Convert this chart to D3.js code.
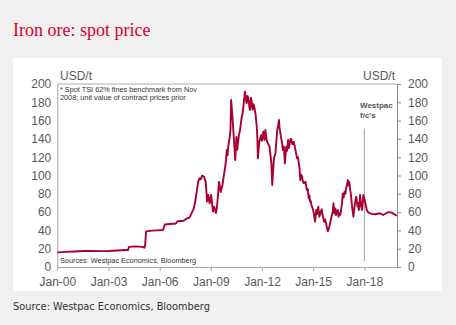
<!DOCTYPE html>
<html>
<head>
<meta charset="utf-8">
<script src="https://cdn.jsdelivr.net/npm/d3@7"></script>
<style>
  html, body { margin: 0; padding: 0; background: #f0f0f0; }
  svg { display: block; }
</style>
</head>
<body>
<svg id="chart" width="456" height="325"></svg>
<script>
// Iron ore spot price, USD/t (decimal year, price); rows line up one-to-one
const years = [
  2000.0, 2000.5, 2001.0, 2001.5, 2002.0, 2002.5, 2003.0, 2003.5, 2004.0, 2004.15,
  2004.2, 2004.6, 2005.0, 2005.1, 2005.15, 2005.2, 2005.4, 2005.8, 2006.2, 2006.3,
  2006.6, 2006.95, 2007.05, 2007.4, 2007.6, 2007.75, 2007.9, 2008.0, 2008.1, 2008.2,
  2008.27, 2008.35, 2008.42, 2008.48, 2008.6, 2008.7, 2008.78, 2008.85, 2008.93, 2009.02,
  2009.12, 2009.2, 2009.25, 2009.3, 2009.35, 2009.42, 2009.48, 2009.58, 2009.68, 2009.78,
  2009.86, 2009.94, 2009.98, 2010.02, 2010.12, 2010.15, 2010.19, 2010.22, 2010.26, 2010.37,
  2010.43, 2010.5, 2010.55, 2010.6, 2010.65, 2010.7, 2010.8, 2010.85, 2010.9, 2011.0,
  2011.05, 2011.1, 2011.15, 2011.2, 2011.25, 2011.3, 2011.35, 2011.4, 2011.45, 2011.5,
  2011.55, 2011.63, 2011.7, 2011.73, 2011.76, 2011.84, 2011.95, 2012.0, 2012.08, 2012.15,
  2012.2, 2012.25, 2012.3, 2012.44, 2012.5, 2012.55, 2012.6, 2012.65, 2012.7, 2012.79,
  2012.89, 2012.95, 2012.99, 2013.03, 2013.08, 2013.13, 2013.18, 2013.22, 2013.28, 2013.34,
  2013.42, 2013.47, 2013.53, 2013.57, 2013.61, 2013.67, 2013.72, 2013.78, 2013.86, 2013.9,
  2013.96, 2014.0, 2014.06, 2014.11, 2014.16, 2014.2, 2014.25, 2014.3, 2014.35, 2014.4,
  2014.45, 2014.55, 2014.63, 2014.68, 2014.74, 2014.78, 2014.82, 2014.86, 2014.9, 2015.0,
  2015.05, 2015.11, 2015.18, 2015.23, 2015.3, 2015.36, 2015.45, 2015.5, 2015.55, 2015.6,
  2015.64, 2015.7, 2015.76, 2015.8, 2015.86, 2015.9, 2015.95, 2016.05, 2016.1, 2016.15,
  2016.19, 2016.25, 2016.3, 2016.34, 2016.44, 2016.49, 2016.54, 2016.59, 2016.64, 2016.69,
  2016.74, 2016.79, 2016.84, 2016.89, 2016.93, 2016.98, 2017.03, 2017.07, 2017.1, 2017.13,
  2017.17, 2017.22, 2017.26, 2017.31, 2017.36, 2017.4, 2017.45, 2017.52, 2017.56, 2017.6,
  2017.64, 2017.67, 2017.71, 2017.75, 2017.8, 2017.86, 2017.9, 2017.94, 2017.98, 2018.04,
  2018.14, 2018.24, 2018.43, 2018.63, 2018.92, 2019.1, 2019.3, 2019.4, 2019.6, 2019.9
];
const prices = [
  16, 16.5, 17, 17.5, 17.5, 17.3, 17.5, 18, 18.5, 18.6,
  22, 22.5, 22, 21, 24, 38.6, 39.5, 40, 40.5, 46.5,
  47, 47.5, 50, 50.5, 53, 54, 60, 64, 73, 86,
  94, 97, 96, 99.8, 98.7, 93, 71.4, 78.7, 69.6, 78.7,
  60.5, 66, 62.3, 59, 64, 78.7, 93, 82, 89.6, 102,
  111.5, 128, 122, 131.5, 144, 150, 182.5, 175, 166, 135,
  117, 142, 128, 137, 145, 148, 162.5, 167, 173.4, 191.6,
  184, 179, 187, 184, 176, 171.6, 185, 180.7, 172, 178,
  175, 166, 151.6, 140, 118.8, 137, 144, 138, 148, 138.8,
  149.7, 142, 137, 131.5, 122, 113.3, 89.6, 105, 118.8, 124.3,
  149.7, 155, 160.7, 152, 146, 140, 135, 128, 131.5, 113.3,
  131.5, 127, 138.8, 130, 133.3, 140, 139.5, 134, 137, 133,
  128, 124, 118.8, 120, 113.3, 108, 95, 101, 98.7, 93,
  91.5, 93.2, 84, 85, 75, 78, 71.4, 72, 67.8, 62.3,
  57, 49.5, 62.3, 58, 66, 55, 60.5, 63, 56.8, 53,
  49.5, 52, 47.8, 44, 39, 41, 44, 53.2, 57, 60.5,
  69.6, 58.7, 64, 56.8, 62.3, 55, 58.7, 57, 62.3, 70,
  80.5, 76, 82.3, 80, 86, 90, 95, 89, 93.2, 91,
  84, 78, 69.6, 62, 55, 62, 69.6, 76.8, 72, 66,
  70, 62.3, 66, 78.7, 70, 62.3, 68, 78.7, 76, 71.4,
  62.3, 59.4, 58, 57.6, 58.7, 56.8, 59, 60, 59.4, 56
];
const yTicks = [0, 20, 40, 60, 80, 100, 120, 140, 160, 180, 200];
const xTickYears = [2000, 2003, 2006, 2009, 2012, 2015, 2018];
const forecastStart = 2018;

const title = "Iron ore: spot price";
const footnote = ["* Spot TSI 62% fines benchmark from Nov", "2008; unit value of contract prices prior"];
const innerSource = "Sources: Westpac Economics, Bloomberg";
const outerSource = "Source: Westpac Economics, Bloomberg";
const forecastLabel = ["Westpac", "f/c's"];

// decimal year -> Date
function toDate(yv) {
  const yr = Math.floor(yv);
  const start = new Date(yr, 0, 1), end = new Date(yr + 1, 0, 1);
  return new Date(+start + (yv - yr) * (end - start));
}
const data = years.map((yv, i) => ({ date: toDate(yv), value: prices[i] }));

const svg = d3.select("#chart");
const grey = "#595959";

// card
svg.append("rect").attr("x", 13).attr("y", 58).attr("width", 429).attr("height", 233).attr("fill", "#ffffff");

svg.append("text").attr("x", 13).attr("y", 36)
  .attr("font-family", "'Liberation Serif', 'Times New Roman', serif")
  .attr("font-size", 18).attr("fill", "#d5002b").text(title);

svg.append("text").attr("x", 13).attr("y", 310)
  .attr("font-family", "'DejaVu Sans', sans-serif")
  .attr("font-size", 9.8).attr("fill", "#333").text(outerSource);

const plotLeft = 57.3, plotRight = 397, plotTop = 84, plotBottom = 267;
const x = d3.scaleTime().domain([new Date(2000, 0, 1), new Date(2019, 11, 1)]).range([plotLeft, plotRight]);
const y = d3.scaleLinear().domain([0, 200]).range([plotBottom, plotTop]);

const font = "'Liberation Sans', Arial, sans-serif";

// top gridline at 200
svg.append("line").attr("x1", plotLeft).attr("x2", plotRight).attr("y1", y(200)).attr("y2", y(200))
  .attr("stroke", "#d6d6d6").attr("stroke-width", 2);

// left axis (labels + line)
const yLeft = svg.append("g").attr("transform", `translate(${plotLeft},0)`)
  .call(d3.axisLeft(y).tickValues(yTicks).tickSize(0).tickPadding(6));
yLeft.select(".domain").attr("stroke", "#a6a6a6");
yLeft.selectAll("text").attr("font-family", font).attr("font-size", 12).attr("fill", grey);

// right axis
const yRight = svg.append("g").attr("transform", `translate(${plotRight},0)`)
  .call(d3.axisRight(y).tickValues(yTicks).tickSize(4).tickSizeOuter(0).tickPadding(7));
yRight.select(".domain").attr("stroke", "#8c8c8c");
yRight.selectAll(".tick line").attr("stroke", "#8c8c8c");
yRight.selectAll("text").attr("font-family", font).attr("font-size", 12).attr("fill", grey);

// bottom axis
const xAxis = svg.append("g").attr("transform", `translate(0,${plotBottom})`)
  .call(d3.axisBottom(x).tickValues(xTickYears.map(v => new Date(v, 0, 1)))
    .tickSize(4).tickSizeOuter(0).tickPadding(6).tickFormat(d3.timeFormat("%b-%y")));
xAxis.select(".domain").attr("stroke", "#a6a6a6");
xAxis.selectAll(".tick line").attr("stroke", "#a6a6a6");
xAxis.selectAll("text").attr("font-family", font).attr("font-size", 12).attr("fill", grey);

// unit labels
svg.append("text").attr("x", 60).attr("y", 80).attr("font-family", font).attr("font-size", 12)
  .attr("fill", grey).text("USD/t");
svg.append("text").attr("x", 395).attr("y", 80).attr("text-anchor", "end").attr("font-family", font)
  .attr("font-size", 12).attr("fill", grey).text("USD/t");

// footnote
footnote.forEach((t, i) => {
  svg.append("text").attr("x", 60).attr("y", 91.5 + i * 8).attr("font-family", font)
    .attr("font-size", 7.3).attr("fill", "#333").text(t);
});
svg.append("text").attr("x", 60).attr("y", 263).attr("font-family", font)
  .attr("font-size", 7.3).attr("fill", "#333").text(innerSource);

// forecast marker
const fx = x(new Date(forecastStart, 0, 1));
svg.append("line").attr("x1", fx).attr("x2", fx)
  .attr("y1", 128.5).attr("y2", 261).attr("stroke", "#a0a0a0").attr("stroke-width", 1);
forecastLabel.forEach((t, i) => {
  svg.append("text").attr("x", 360).attr("y", 108 + i * 10).attr("font-family", font)
    .attr("font-size", 8).attr("font-weight", "bold").attr("fill", "#555").text(t);
});

// price line
svg.append("path").datum(data)
  .attr("fill", "none").attr("stroke", "#a8002f").attr("stroke-width", 1.9)
  .attr("stroke-linejoin", "round")
  .attr("d", d3.line().x(d => x(d.date)).y(d => y(d.value)));
</script>
</body>
</html>
